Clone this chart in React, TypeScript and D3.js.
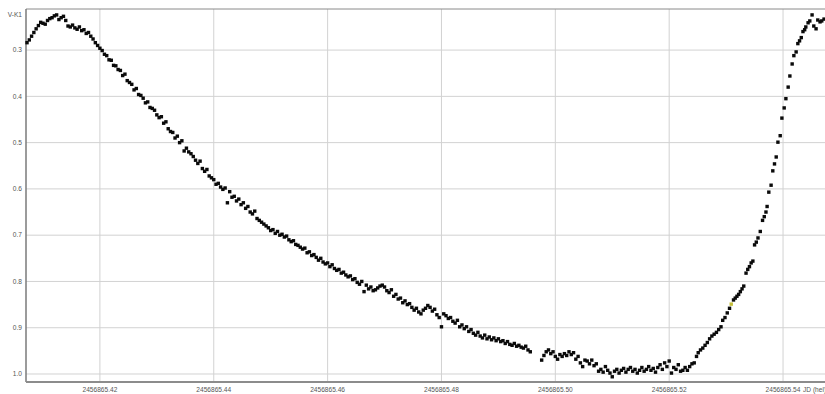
import React from "react";
import * as d3 from "d3";

// Time is stored as offset from JD 2456865.40 in units of 1e-4 day; values are V-K1 differential magnitudes.
const maximumPhase: [number, number][] = [
  [72, 0.284], [76, 0.278], [80, 0.27], [84, 0.262], [88, 0.254], [92, 0.247], [96, 0.24], [100, 0.242],
  [104, 0.244], [108, 0.236], [112, 0.232], [116, 0.23], [120, 0.226], [124, 0.224], [128, 0.234], [132, 0.23],
  [136, 0.227], [140, 0.236], [144, 0.248], [148, 0.25], [152, 0.246], [156, 0.252], [160, 0.255], [164, 0.25],
  [168, 0.258], [172, 0.256], [176, 0.264], [180, 0.262], [184, 0.27], [188, 0.276], [192, 0.284], [196, 0.29],
  [200, 0.296],
];

const declinePhase: [number, number][] = [
  [204, 0.301], [208, 0.309], [212, 0.312], [216, 0.321], [220, 0.322], [224, 0.333], [228, 0.334], [232, 0.342],
  [236, 0.344], [240, 0.355], [244, 0.352], [248, 0.366], [252, 0.37], [256, 0.374], [260, 0.386], [264, 0.383],
  [268, 0.396], [272, 0.398], [276, 0.404], [280, 0.414], [284, 0.412], [288, 0.424], [292, 0.426], [296, 0.43],
  [300, 0.44], [304, 0.446], [308, 0.444], [312, 0.458], [316, 0.455], [320, 0.47], [324, 0.476], [328, 0.478],
  [332, 0.49], [336, 0.486], [340, 0.5], [344, 0.496], [348, 0.518], [352, 0.512], [356, 0.52], [360, 0.524],
  [364, 0.53], [368, 0.538], [372, 0.545], [376, 0.54], [380, 0.556], [384, 0.562], [388, 0.558], [392, 0.572],
  [396, 0.576], [400, 0.58], [404, 0.59], [408, 0.588], [412, 0.596], [416, 0.601], [420, 0.598], [424, 0.63],
  [428, 0.606], [432, 0.618], [436, 0.616], [440, 0.626], [444, 0.622], [448, 0.634], [452, 0.63], [456, 0.642],
  [460, 0.638], [464, 0.65], [468, 0.654], [472, 0.648], [476, 0.664], [480, 0.668], [484, 0.672], [488, 0.676],
  [492, 0.68], [496, 0.684], [500, 0.69], [504, 0.688], [508, 0.696], [512, 0.692], [516, 0.7], [520, 0.698],
  [524, 0.704], [528, 0.702], [532, 0.71], [536, 0.714], [540, 0.712], [544, 0.72], [548, 0.722], [552, 0.726],
  [556, 0.73], [560, 0.728], [564, 0.738], [568, 0.736], [572, 0.744], [576, 0.742], [580, 0.748], [584, 0.754],
  [588, 0.75], [592, 0.758], [596, 0.762], [600, 0.76], [604, 0.768], [608, 0.764], [612, 0.772], [616, 0.776],
  [620, 0.774], [624, 0.782], [628, 0.78], [632, 0.786], [636, 0.79], [640, 0.788], [644, 0.796], [648, 0.794],
  [652, 0.802], [656, 0.806], [660, 0.8], [664, 0.822], [668, 0.808], [672, 0.816], [676, 0.812], [680, 0.82],
  [684, 0.818], [688, 0.814], [692, 0.81], [696, 0.808], [700, 0.812], [704, 0.82], [708, 0.824], [712, 0.818],
  [716, 0.832], [720, 0.828], [724, 0.838], [728, 0.836], [732, 0.846], [736, 0.842], [740, 0.85], [744, 0.848],
  [748, 0.856], [752, 0.862], [756, 0.858], [760, 0.866], [764, 0.87], [768, 0.862], [772, 0.858], [776, 0.852],
  [780, 0.856], [784, 0.864], [788, 0.86], [792, 0.872], [796, 0.878], [800, 0.898], [804, 0.87], [808, 0.874],
  [812, 0.88], [816, 0.878], [820, 0.886], [824, 0.89], [828, 0.884], [832, 0.898], [836, 0.894], [840, 0.902],
  [844, 0.898], [848, 0.908], [852, 0.904], [856, 0.912], [860, 0.916], [864, 0.91], [868, 0.918], [872, 0.922],
  [876, 0.916], [880, 0.924], [884, 0.92], [888, 0.926], [892, 0.922], [896, 0.928], [900, 0.924], [904, 0.93],
  [908, 0.928], [912, 0.934], [916, 0.93], [920, 0.936], [924, 0.938], [928, 0.934], [932, 0.94], [936, 0.938],
  [940, 0.942], [944, 0.944], [948, 0.94], [952, 0.948], [956, 0.952],
];

const minimumPhase: [number, number][] = [
  [976, 0.97], [980, 0.96], [984, 0.952], [988, 0.948], [992, 0.956], [996, 0.952], [1000, 0.962], [1004, 0.968],
  [1008, 0.958], [1012, 0.962], [1016, 0.956], [1020, 0.96], [1024, 0.952], [1028, 0.958], [1032, 0.954], [1036, 0.968],
  [1040, 0.962], [1044, 0.976], [1048, 0.984], [1052, 0.97], [1056, 0.972], [1060, 0.978], [1064, 0.97], [1068, 0.982],
  [1072, 0.978], [1076, 0.994], [1080, 0.99], [1084, 0.996], [1088, 0.984], [1092, 0.992], [1096, 0.998], [1100, 1.006],
  [1104, 0.994], [1108, 0.99], [1112, 0.998], [1116, 0.992], [1120, 0.988], [1124, 0.996], [1128, 0.99], [1132, 0.986],
  [1136, 0.994], [1140, 0.99], [1144, 0.998], [1148, 0.992], [1152, 0.986], [1156, 0.994], [1160, 0.99], [1164, 0.984],
  [1168, 0.992], [1172, 0.988], [1176, 0.996], [1180, 0.986], [1184, 0.98], [1188, 0.99], [1192, 0.976], [1196, 0.984],
  [1200, 0.972], [1204, 0.998], [1208, 0.986], [1212, 0.99], [1216, 0.98], [1220, 0.994], [1224, 0.992], [1228, 0.986],
  [1232, 0.992], [1236, 0.984], [1240, 0.978], [1244, 0.976],
];

const risePhase: [number, number][] = [
  [1248, 0.962], [1251, 0.954], [1255, 0.948], [1259, 0.944], [1263, 0.938], [1267, 0.932], [1271, 0.924],
  [1275, 0.918], [1279, 0.914], [1283, 0.91], [1287, 0.904], [1291, 0.898], [1294, 0.884], [1298, 0.878],
  [1302, 0.868], [1306, 0.858], [1313, 0.84], [1316, 0.836], [1319, 0.832], [1322, 0.828], [1325, 0.822],
  [1328, 0.816], [1331, 0.81], [1335, 0.782], [1338, 0.774], [1341, 0.768], [1344, 0.76], [1347, 0.756],
  [1350, 0.721], [1353, 0.715], [1356, 0.706], [1360, 0.692], [1364, 0.668], [1367, 0.66], [1370, 0.65],
  [1372, 0.638], [1375, 0.607], [1379, 0.592], [1382, 0.561], [1385, 0.546], [1388, 0.531], [1391, 0.499],
  [1395, 0.485], [1398, 0.447], [1402, 0.425], [1405, 0.405], [1409, 0.38], [1412, 0.356], [1416, 0.33],
  [1419, 0.312], [1423, 0.304], [1426, 0.286], [1429, 0.28], [1432, 0.273], [1435, 0.26], [1438, 0.256],
  [1440, 0.25], [1444, 0.241], [1447, 0.237], [1451, 0.224], [1454, 0.248], [1458, 0.254], [1461, 0.235],
  [1465, 0.239], [1468, 0.237], [1472, 0.233],
];

// Single measurement highlighted in a different colour.
const flaggedPoint: [number, number][] = [[1309, 0.849]];

const xTicks = [0.42, 0.44, 0.46, 0.48, 0.5, 0.52, 0.54];
const xTickLabels = ["2456865.42", "2456865.44", "2456865.46", "2456865.48", "2456865.50", "2456865.52", "2456865.54"];
const yTicks = [0.3, 0.4, 0.5, 0.6, 0.7, 0.8, 0.9, 1.0];
const yAxisTitle = "V-K1";
const xAxisTitle = "JD (hel)";

const W = 825;
const H = 394;
const plot = { left: 26, right: 825, top: 9, bottom: 382 };
const font = "'Liberation Sans', Arial, sans-serif";
const dot = 3.4;

export default function App() {
  // JD fraction (JD - 2456865) on x, magnitude on y (brighter upward)
  const x = d3.scaleLinear().domain([0.40702, 0.54737]).range([plot.left, plot.right]);
  const y = d3.scaleLinear().domain([0.2112, 1.0173]).range([plot.top, plot.bottom]);
  const jd = (t: number) => 0.4 + t * 1e-4;

  const points = [...maximumPhase, ...declinePhase, ...minimumPhase, ...risePhase];

  return (
    <svg
      width={W}
      height={H}
      viewBox={`0 0 ${W} ${H}`}
      style={{ position: "absolute", left: 0, top: 0, background: "#fff", display: "block" }}
    >
      <rect x={0} y={0} width={W} height={H} fill="#fff" />
      {/* grid */}
      {yTicks.map((v) => (
        <line key={`gy${v}`} x1={plot.left} x2={plot.right} y1={y(v)} y2={y(v)} stroke="#d2d2d2" strokeWidth={1} />
      ))}
      {xTicks.map((v) => (
        <line key={`gx${v}`} x1={x(v)} x2={x(v)} y1={plot.top} y2={plot.bottom} stroke="#d2d2d2" strokeWidth={1} />
      ))}
      {/* frame */}
      <line x1={plot.left} x2={plot.right} y1={plot.top} y2={plot.top} stroke="#8a8a8a" strokeWidth={1} />
      <line x1={plot.left} x2={plot.left} y1={plot.top} y2={plot.bottom} stroke="#7a7a7a" strokeWidth={1.5} />
      <line x1={plot.left} x2={plot.right} y1={plot.bottom} y2={plot.bottom} stroke="#8c8c8c" strokeWidth={2} />

      {/* y tick labels */}
      {yTicks.map((v) => (
        <text
          key={`ty${v}`}
          x={plot.left - 4}
          y={y(v)}
          dy="0.35em"
          textAnchor="end"
          fontFamily={font}
          fontSize={6.6}
          fill="#555"
        >
          {d3.format(".1f")(v)}
        </text>
      ))}
      <text x={plot.left - 4} y={15} dy="0.35em" textAnchor="end" fontFamily={font} fontSize={6.6} fill="#555">
        {yAxisTitle}
      </text>

      {/* x tick labels */}
      {xTicks.map((v, i) => (
        <text
          key={`tx${v}`}
          x={x(v)}
          y={392}
          textAnchor="middle"
          fontFamily={font}
          fontSize={6.6}
          fill="#555"
        >
          {xTickLabels[i]}
        </text>
      ))}
      <text x={x(0.54) + 20} y={392} fontFamily={font} fontSize={6.6} fill="#555">
        {xAxisTitle}
      </text>

      {/* measurements */}
      {points.map(([t, m], i) => (
        <rect key={i} x={x(jd(t)) - dot / 2} y={y(m) - dot / 2} width={dot} height={dot} fill="#0a0a0a" />
      ))}
      {flaggedPoint.map(([t, m], i) => (
        <rect key={`f${i}`} x={x(jd(t)) - dot / 2} y={y(m) - dot / 2} width={dot} height={dot} fill="#c4bf3a" />
      ))}
    </svg>
  );
}
